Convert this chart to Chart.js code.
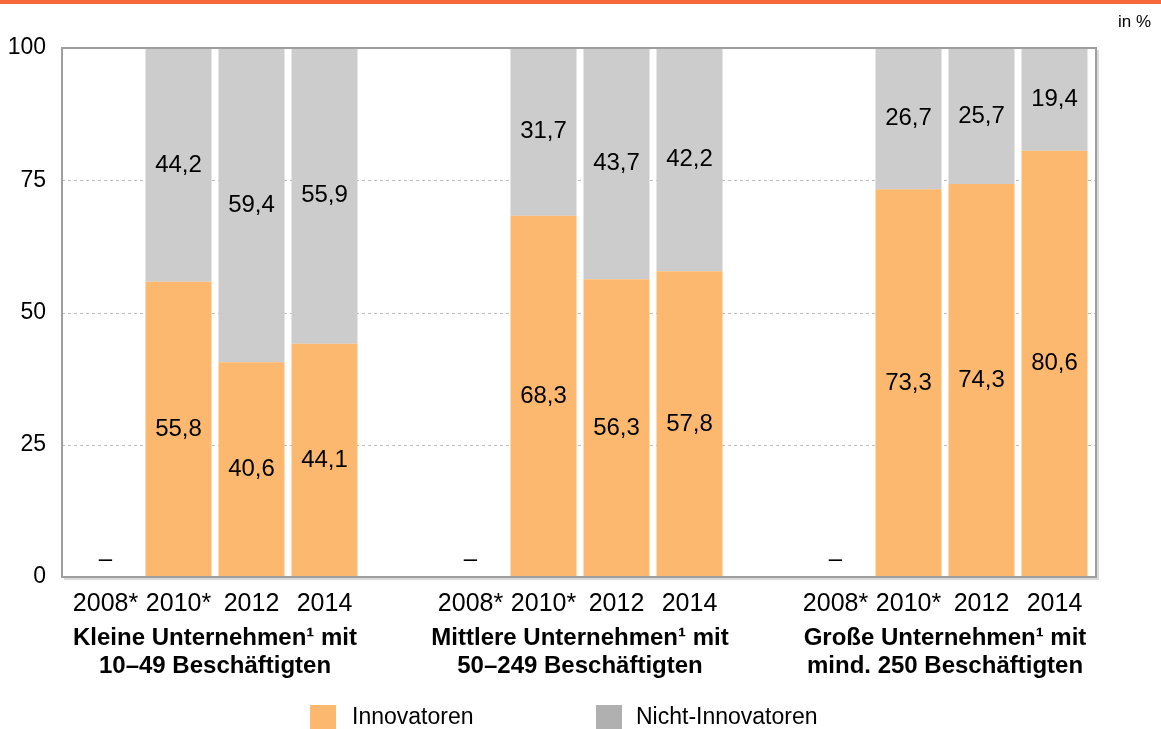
<!DOCTYPE html>
<html>
<head>
<meta charset="utf-8">
<script src="https://cdn.jsdelivr.net/npm/chart.js@4.4.1/dist/chart.umd.min.js"></script>
<style>
  body { margin: 0; background: #fff; }
</style>
</head>
<body>
<canvas id="myChart" width="1161" height="729"></canvas>
<script>
const years = ['2008*', '2010*', '2012', '2014'];
const groupTitles = [
  ['Kleine Unternehmen\u00b9 mit', '10\u201349 Beschäftigten'],
  ['Mittlere Unternehmen\u00b9 mit', '50\u2013249 Beschäftigten'],
  ['Große Unternehmen\u00b9 mit', 'mind. 250 Beschäftigten']
];
const innovatoren = [
  [null, 55.8, 40.6, 44.1],
  [null, 68.3, 56.3, 57.8],
  [null, 73.3, 74.3, 80.6]
];
const nichtInnovatoren = [
  [null, 44.2, 59.4, 55.9],
  [null, 31.7, 43.7, 42.2],
  [null, 26.7, 25.7, 19.4]
];
const yTicks = [0, 25, 50, 75, 100];

const FONT = '"Liberation Sans", Arial, sans-serif';
const orange = '#FDB870';
const gray = '#CCCCCC';

// flatten groups, one empty slot between groups
const labels = [], innov = [], nicht = [], slotGroup = [];
groupTitles.forEach((g, gi) => {
  if (gi > 0) { labels.push(''); innov.push(null); nicht.push(null); slotGroup.push(-1); }
  years.forEach((y, i) => {
    labels.push(y);
    innov.push(innovatoren[gi][i]);
    nicht.push(nichtInnovatoren[gi][i]);
    slotGroup.push(gi);
  });
});

const fmt = v => v.toFixed(1).replace('.', ',');

const decor = {
  id: 'decor',
  beforeDatasetsDraw(chart) {
    const c = chart.ctx, ys = chart.scales.y;
    c.save();
    c.strokeStyle = '#BDBDBD';
    c.lineWidth = 1;
    c.setLineDash([3, 3]);
    [25, 50, 75].forEach(v => {
      const py = Math.round(ys.getPixelForValue(v)) + 0.5;
      c.beginPath(); c.moveTo(62, py); c.lineTo(1096, py); c.stroke();
    });
    c.restore();
  },
  afterDatasetsDraw(chart) {
    const c = chart.ctx, xs = chart.scales.x, ys = chart.scales.y;
    const top = ys.getPixelForValue(100), bottom = ys.getPixelForValue(0);
    c.save();
    // top orange rule
    c.fillStyle = '#F7693A';
    c.fillRect(0, 0, chart.width, 4);
    // "in %"
    c.fillStyle = '#000';
    c.font = '17px ' + FONT;
    c.textAlign = 'right'; c.textBaseline = 'middle';
    c.fillText('in %', 1151, 22);
    // frame with light shadow
    c.strokeStyle = '#DADADA'; c.lineWidth = 2;
    c.beginPath();
    c.moveTo(1098, top + 2); c.lineTo(1098, bottom + 2); c.lineTo(64, bottom + 2);
    c.stroke();
    c.strokeStyle = '#9E9E9E'; c.lineWidth = 2;
    c.strokeRect(62, top, 1096 - 62, bottom - top);
    // value labels
    c.font = '24px ' + FONT;
    c.textAlign = 'center'; c.textBaseline = 'middle';
    c.fillStyle = '#000';
    [0, 1].forEach(di => {
      const meta = chart.getDatasetMeta(di);
      const vals = chart.data.datasets[di].data;
      meta.data.forEach((el, i) => {
        if (vals[i] == null) return;
        c.fillText(fmt(vals[i]), el.x, (el.y + el.base) / 2);
      });
    });
    // dash for missing 2008 values
    labels.forEach((l, i) => {
      if (l !== '' && innov[i] == null) {
        c.fillText('\u2013', xs.getPixelForValue(i), bottom - 18);
      }
    });
    // group titles
    c.font = 'bold 24px ' + FONT;
    groupTitles.forEach((g, gi) => {
      const idx = slotGroup.map((s, i) => s === gi ? i : -1).filter(i => i >= 0);
      const cx = (xs.getPixelForValue(idx[0]) + xs.getPixelForValue(idx[idx.length - 1])) / 2;
      c.fillText(g[0], cx, 638);
      c.fillText(g[1], cx, 666);
    });
    // legend
    c.font = '23px ' + FONT;
    c.textAlign = 'left';
    c.fillStyle = orange; c.fillRect(310, 705, 26, 25);
    c.fillStyle = '#000'; c.fillText('Innovatoren', 352, 718);
    c.fillStyle = '#B0B0B0'; c.fillRect(596, 705, 26, 25);
    c.fillStyle = '#000'; c.fillText('Nicht-Innovatoren', 636, 718);
    c.restore();
  }
};

new Chart(document.getElementById('myChart'), {
  type: 'bar',
  data: {
    labels: labels,
    datasets: [
      { label: 'Innovatoren', data: innov, backgroundColor: orange, barPercentage: 66 / 73, categoryPercentage: 1 },
      { label: 'Nicht-Innovatoren', data: nicht, backgroundColor: gray, barPercentage: 66 / 73, categoryPercentage: 1 }
    ]
  },
  options: {
    responsive: false,
    devicePixelRatio: 1,
    animation: false,
    layout: { padding: { top: 48, right: 70, left: 0, bottom: 0 } },
    plugins: { legend: { display: false }, tooltip: { enabled: false } },
    scales: {
      x: {
        stacked: true,
        grid: { display: false, drawTicks: false },
        border: { display: false },
        ticks: { color: '#000', font: { family: FONT, size: 25 }, padding: 12, maxRotation: 0, autoSkip: false },
        afterFit(s) { s.height = 152; }
      },
      y: {
        stacked: true,
        min: 0, max: 100,
        afterBuildTicks(s) { s.ticks = yTicks.map(v => ({ value: v })); },
        grid: { display: false, drawTicks: false },
        border: { display: false },
        ticks: { color: '#000', font: { family: FONT, size: 23 }, padding: 23 },
        afterFit(s) { s.width = 69; }
      }
    }
  },
  plugins: [decor]
});
</script>
</body>
</html>
